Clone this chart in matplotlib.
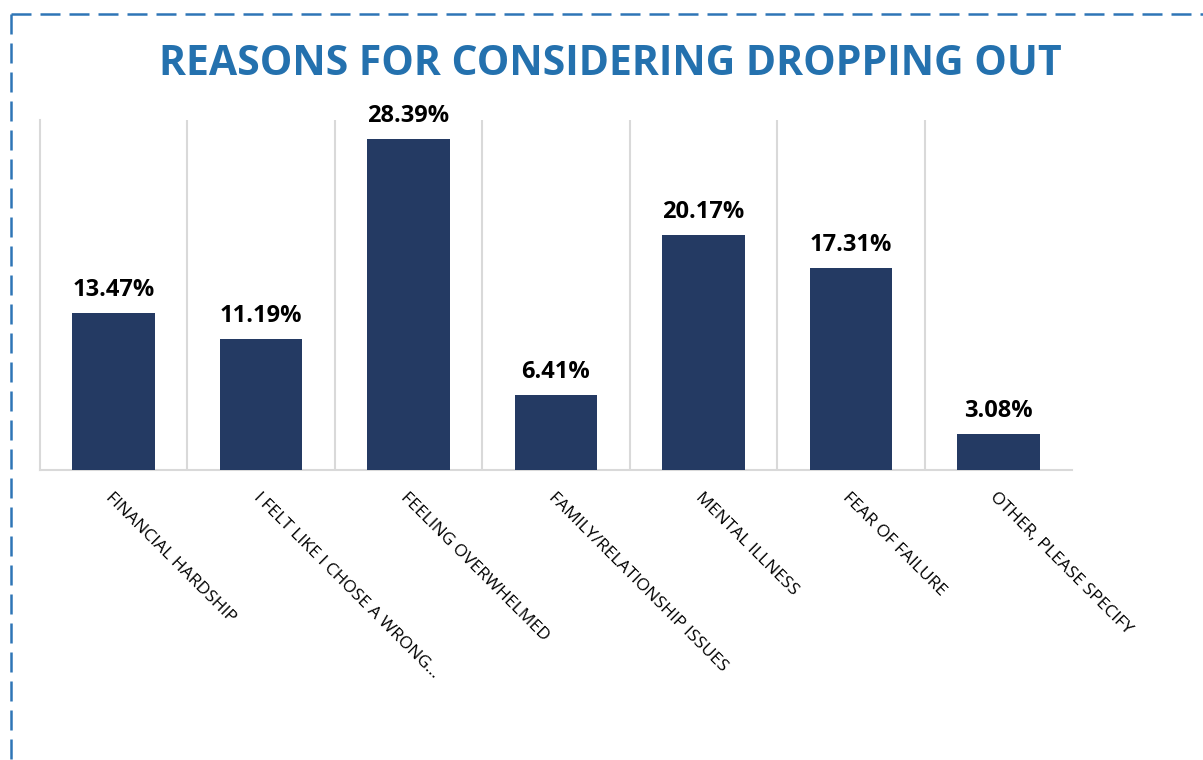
import matplotlib.pyplot as plt
from matplotlib.lines import Line2D

# data
categories = ['FINANCIAL HARDSHIP', 'I FELT LIKE I CHOSE A WRONG\u2026', 'FEELING OVERWHELMED',
              'FAMILY/RELATIONSHIP ISSUES', 'MENTAL ILLNESS', 'FEAR OF FAILURE',
              'OTHER, PLEASE SPECIFY']
values = [13.47, 11.19, 28.39, 6.41, 20.17, 17.31, 3.08]
value_labels = ['13.47%', '11.19%', '28.39%', '6.41%', '20.17%', '17.31%', '3.08%']

plt.rcParams['font.family'] = ['Open Sans', 'DejaVu Sans']

W, H = 1203, 760
fig = plt.figure(figsize=(W / 100, H / 100), dpi=100)
ax = fig.add_axes([40 / W, 1 - 470 / H, (1072 - 40) / W, (470 - 120) / H])

x = range(len(categories))
bars = ax.bar(x, values, width=0.56, color='#243A63', zorder=3)

for b, lab in zip(bars, value_labels):
    ax.annotate(lab, (b.get_x() + b.get_width() / 2, b.get_height()),
                xytext=(0, 8), textcoords='offset points', ha='center', va='bottom',
                fontsize=17, fontweight='bold', color='black')

ax.set_xlim(-0.5, len(categories) - 0.5)
ax.set_ylim(0, 30)
ax.set_yticks([])

# gridlines between categories
ax.set_xticks([i + 0.5 for i in range(len(categories) - 1)], minor=True)
ax.grid(True, which='minor', axis='x', color='#D9D9D9', linewidth=1.5, zorder=0)
ax.tick_params(axis='x', which='minor', length=0)

ax.set_xticks(list(x))
ax.set_xticklabels(categories, rotation=-45, ha='left', va='top', rotation_mode='anchor',
                   fontsize=12.5, color='black')
ax.tick_params(axis='x', which='major', length=0, pad=14)

for s in ['top', 'right']:
    ax.spines[s].set_visible(False)
ax.spines['left'].set_color('#D9D9D9')
ax.spines['left'].set_linewidth(1.5)
ax.spines['bottom'].set_color('#D9D9D9')
ax.spines['bottom'].set_linewidth(1.5)

# title
fig.text(610 / W, 1 - 75 / H, 'REASONS FOR CONSIDERING DROPPING OUT', ha='center', va='baseline',
         fontsize=29.5, fontweight='bold', color='#2471AE')

# dashed frame (top and left edges visible)
bx, by = 11 / W, 1 - 14 / H
dash = (0, (8, 3.6))
fig.add_artist(Line2D([bx, 1.02], [by, by], transform=fig.transFigure, color='#2E75B6',
                      linewidth=1.8, linestyle=dash))
fig.add_artist(Line2D([bx, bx], [by, -0.02], transform=fig.transFigure, color='#2E75B6',
                      linewidth=1.8, linestyle=dash))

fig.savefig('out.png', dpi=100)
